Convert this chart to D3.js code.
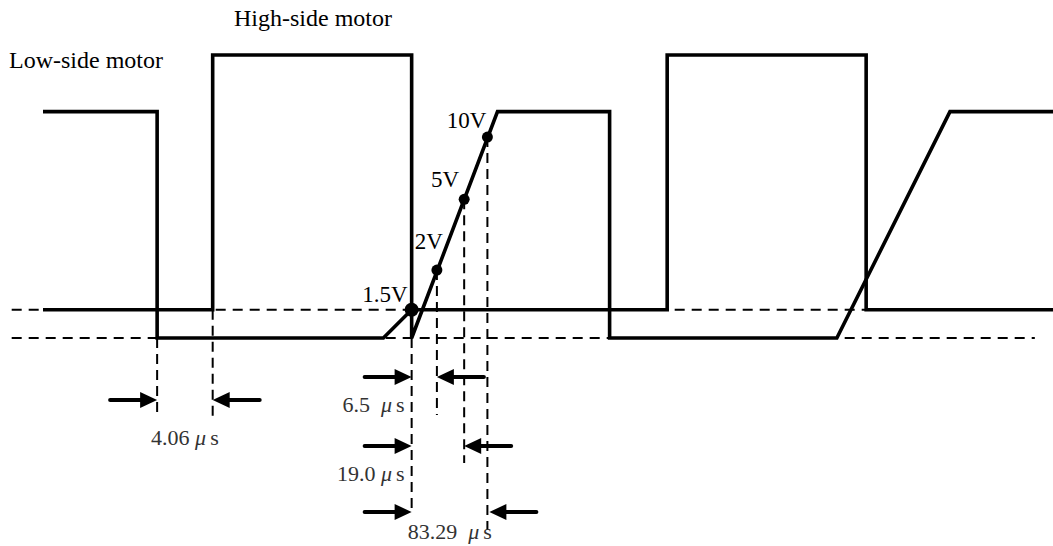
<!DOCTYPE html>
<html>
<head>
<meta charset="utf-8">
<script src="https://cdn.jsdelivr.net/npm/d3@7"></script>
<style>
    html, body { margin: 0; padding: 0; background: #fff; }
    svg { display: block; }
</style>
</head>
<body>
<div id="viz"></div>
<script>
// waveforms as [time, level] (time in arbitrary ticks, level 0..100)
const lowSideTrace = [[0, 80], [113, 80], [113, 0], [337, 0], [365, 10], [618, 10], [618, 100], [815, 100], [815, 10], [1000, 10]];
const highSideTrace = [[0, 10], [168, 10], [168, 100], [365, 100], [365, 0], [450, 80], [561, 80], [561, 0], [786, 0], [898, 80], [1000, 80]];

// dashed reference levels and how far they run
const refLevels = [10, 0];
const refSpan = [-31, 982];

// threshold points on the rising edge
const thresholdLabels = ["1.5V", "2V", "5V", "10V"];
const thresholdTimes = [365, 390, 417, 440];
const thresholdLevels = [10, 24, 49, 71];

// measured intervals
const intervalLabels = ["4.06 μs", "6.5  μs", "19.0 μs", "83.29  μs"];
const intervalStarts = [113, 365, 365, 365];
const intervalEnds = [168, 390, 417, 440];

// vertical guides (dashed) dropped from the traces
const guideTimes = [113, 168, 365, 390, 417, 440];
const guideLevels = [0, 10, 0, 24, 49, 71];

const titles = ["High-side motor", "Low-side motor"];

// ---- layout (pixels) ----
const W = 1053, H = 546;
const guideBottoms = [413, 418, 510, 415, 463, 530];
const arrowRows = [400, 377, 446, 512];
const intervalText = [
    { anchor: "middle", at: "mid", dx: 0, y: 445 },
    { anchor: "end", at: "start", dx: -7, y: 412 },
    { anchor: "end", at: "start", dx: -7, y: 481 },
    { anchor: "start", at: "start", dx: -4, y: 539 }
];
const thresholdText = [[-4, -8], [6, -21], [-5, -12], [-1, -9]];
const titlePos = [[234, 26], [9, 68]];

const SERIF = "'Liberation Serif', 'Times New Roman', Times, serif";

const x = d3.scaleLinear().domain([0, 1000]).range([43, 1053]);
const y = d3.scaleLinear().domain([0, 100]).range([338, 55]);

const svg = d3.select("#viz").append("svg")
    .attr("width", W)
    .attr("height", H)
    .attr("viewBox", `0 0 ${W} ${H}`);

// dashed reference lines
svg.append("g")
    .selectAll("line")
    .data(refLevels)
    .join("line")
    .attr("x1", x(refSpan[0]))
    .attr("x2", x(refSpan[1]))
    .attr("y1", d => y(d))
    .attr("y2", d => y(d))
    .attr("stroke", "#000")
    .attr("stroke-width", 2)
    .attr("stroke-dasharray", "10,7");

// dashed vertical guides
svg.append("g")
    .selectAll("line")
    .data(guideTimes)
    .join("line")
    .attr("x1", d => x(d))
    .attr("x2", d => x(d))
    .attr("y1", (d, i) => y(guideLevels[i]))
    .attr("y2", (d, i) => guideBottoms[i])
    .attr("stroke", "#000")
    .attr("stroke-width", 2)
    .attr("stroke-dasharray", "10,6");

// waveforms
const line = d3.line().x(d => x(d[0])).y(d => y(d[1]));
svg.append("g")
    .selectAll("path")
    .data([lowSideTrace, highSideTrace])
    .join("path")
    .attr("d", line)
    .attr("fill", "none")
    .attr("stroke", "#000")
    .attr("stroke-width", 3.6)
    .attr("stroke-linejoin", "miter");

// threshold dots + labels
svg.append("g")
    .selectAll("circle")
    .data(thresholdTimes)
    .join("circle")
    .attr("cx", d => x(d))
    .attr("cy", (d, i) => y(thresholdLevels[i]))
    .attr("r", (d, i) => i === 0 ? 7 : 5.5)
    .attr("fill", "#000");

svg.append("g")
    .selectAll("text")
    .data(thresholdLabels)
    .join("text")
    .attr("x", (d, i) => x(thresholdTimes[i]) + thresholdText[i][0])
    .attr("y", (d, i) => y(thresholdLevels[i]) + thresholdText[i][1])
    .attr("text-anchor", "end")
    .style("font-family", SERIF)
    .style("font-size", "23px")
    .attr("fill", "#000")
    .text(d => d);

// dimension arrows
const HEAD = 17, HALF = 8, LEN = 47;
function arrow(g, tip, yy, dir) {
    // dir = +1 points right, -1 points left
    const tail = tip - dir * LEN;
    g.append("line")
        .attr("x1", tail).attr("x2", tip - dir * HEAD + dir * 1)
        .attr("y1", yy).attr("y2", yy)
        .attr("stroke", "#000")
        .attr("stroke-width", 4)
        .attr("stroke-linecap", "round");
    g.append("path")
        .attr("d", `M${tip},${yy} L${tip - dir * HEAD},${yy - HALF} L${tip - dir * HEAD},${yy + HALF} Z`)
        .attr("fill", "#000");
}

const arrows = svg.append("g");
intervalLabels.forEach((lab, i) => {
    arrow(arrows, x(intervalStarts[i]), arrowRows[i], 1);
    arrow(arrows, x(intervalEnds[i]) + (i === 3 ? 2 : 0), arrowRows[i], -1);
});

// interval labels with italic mu
const ilab = svg.append("g")
    .selectAll("text")
    .data(intervalLabels)
    .join("text")
    .attr("x", (d, i) => {
        const p = intervalText[i];
        const base = p.at === "mid"
            ? (x(intervalStarts[i]) + x(intervalEnds[i])) / 2
            : x(intervalStarts[i]);
        return base + p.dx;
    })
    .attr("y", (d, i) => intervalText[i].y)
    .attr("text-anchor", (d, i) => intervalText[i].anchor)
    .style("font-family", SERIF)
    .style("font-size", "22px")
    .style("white-space", "pre")
    .attr("fill", "#333");

ilab.each(function (d) {
    const [num, rest] = d.split("μ");
    const t = d3.select(this);
    t.append("tspan").text(num);
    t.append("tspan").style("font-style", "italic").text("μ");
    t.append("tspan").attr("dx", 4).text(rest);
});

// titles
svg.append("g")
    .selectAll("text")
    .data(titles)
    .join("text")
    .attr("x", (d, i) => titlePos[i][0])
    .attr("y", (d, i) => titlePos[i][1])
    .style("font-family", SERIF)
    .style("font-size", "24px")
    .attr("fill", "#000")
    .text(d => d);
</script>
</body>
</html>
